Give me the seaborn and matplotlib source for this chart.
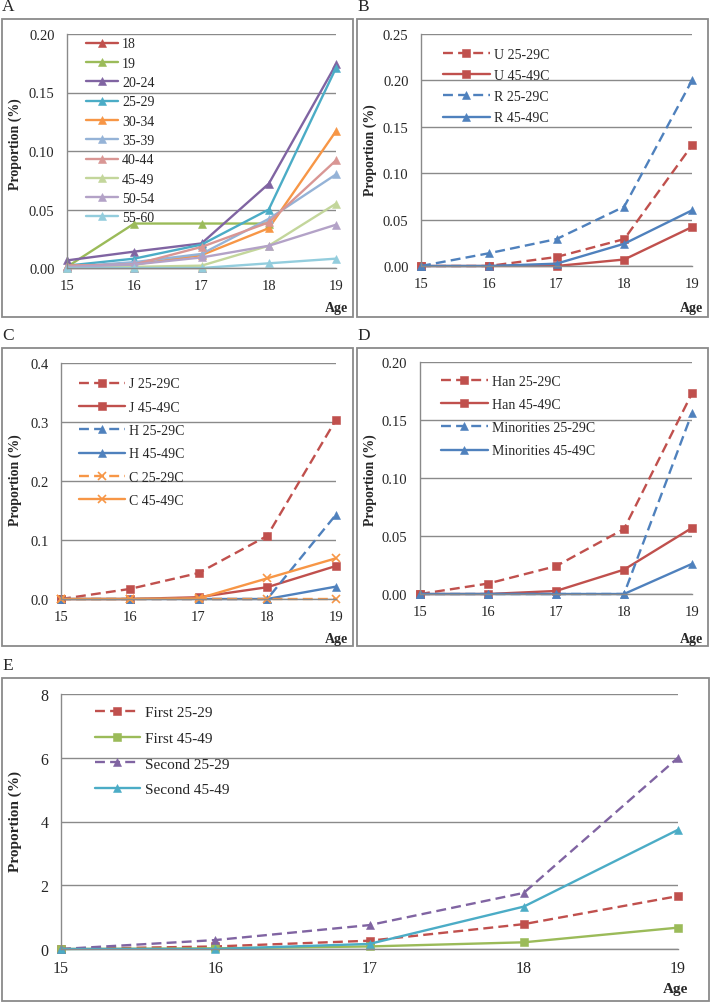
import numpy as np
import pandas as pd
import matplotlib
matplotlib.use("Agg")
import matplotlib.pyplot as plt
from matplotlib.patches import Rectangle
import seaborn as sns

# x axis: age at birth
ages = [15, 16, 17, 18, 19]

# A: birth cohorts
a_18 = [0.0, 0.0, 0.0, np.nan, np.nan]
a_19 = [0.001, 0.038, 0.038, 0.038, np.nan]
a_20_24 = [0.0065, 0.014, 0.021, 0.072, 0.174]
a_25_29 = [0.002, 0.008, 0.020, 0.050, 0.171]
a_30_34 = [0.002, 0.003, 0.011, 0.034, 0.117]
a_35_39 = [0.001, 0.005, 0.012, 0.042, 0.080]
a_40_44 = [0.002, 0.003, 0.018, 0.039, 0.092]
a_45_49 = [0.0, 0.001, 0.002, 0.019, 0.055]
a_50_54 = [0.001, 0.003, 0.009, 0.019, 0.037]
a_55_60 = [0.0, 0.0, 0.0, 0.004, 0.008]

# B: urban / rural
b_u_25 = [0.0, 0.0, 0.0097, 0.029, 0.130]
b_u_45 = [0.0, 0.0, 0.0, 0.007, 0.042]
b_r_25 = [0.0, 0.0137, 0.029, 0.064, 0.200]
b_r_45 = [0.0, 0.0, 0.0025, 0.024, 0.060]

# C: J / H / C groups
c_j_25 = [0.0, 0.017, 0.044, 0.107, 0.304]
c_j_45 = [0.0, 0.0, 0.003, 0.020, 0.056]
c_h_25 = [0.0, 0.0, 0.0, 0.0, 0.143]
c_h_45 = [0.0, 0.0, 0.0, 0.0, 0.021]
c_c_25 = [0.0, 0.0, 0.0, 0.0, 0.0]
c_c_45 = [0.0, 0.0, 0.001, 0.035, 0.069]

# D: Han / minorities
d_han_25 = [0.0, 0.009, 0.024, 0.056, 0.173]
d_han_45 = [0.0, 0.0, 0.0026, 0.021, 0.057]
d_min_25 = [0.0, 0.0, 0.0, 0.0, 0.156]
d_min_45 = [0.0, 0.0, 0.0, 0.0, 0.026]

# E: first / second marriage
e_first_25 = [0.0, 0.08, 0.26, 0.78, 1.66]
e_first_45 = [0.0, 0.02, 0.08, 0.21, 0.67]
e_second_25 = [0.0, 0.28, 0.75, 1.76, 6.0]
e_second_45 = [0.0, 0.0, 0.16, 1.33, 3.74]

RED = '#C0504D'
GREEN = '#9BBB59'
PURPLE = '#8064A2'
TEAL = '#4BACC6'
ORANGE = '#F79646'
BLUE = '#4F81BD'
GRAY = '#8a8a8a'
DASH = (0, (4.2, 2.2))

sns.set_style('white')
plt.rcParams['font.family'] = ['Liberation Serif', 'DejaVu Serif']

W, H = 710, 1003
fig = plt.figure(figsize=(W / 100, H / 100), dpi=100)


def fx(x):
    return x / W


def fy(y):
    return 1 - y / H


def box(x0, y0, x1, y1):
    fig.add_artist(Rectangle((fx(x0), fy(y1)), (x1 - x0) / W, (y1 - y0) / H,
                             transform=fig.transFigure, fill=False,
                             edgecolor=GRAY, lw=1.3))


def panel(rect, series, ylim, step, fmt, leg, fs=10.5, lfs=10):
    l, t, r, b = rect
    ax = fig.add_axes([fx(l), fy(b), (r - l) / W, (b - t) / H])
    names = []
    for name, vals, color, marker, ls in series:
        sns.lineplot(x=ages, y=vals, ax=ax, color=color, marker=marker,
                     linestyle=ls, linewidth=1.7, markersize=5.5,
                     markeredgewidth=1.2 if marker == 'x' else 0.4,
                     markeredgecolor=color, clip_on=False, legend=False)
        names.append(name)
    ax.set_xlim(15, 19)
    ax.set_ylim(*ylim)
    ax.set_xticks(ages)
    ax.set_yticks(np.arange(ylim[0], ylim[1] + step / 2, step))
    ax.set_yticklabels([fmt % v for v in ax.get_yticks()])
    ax.yaxis.grid(True, color=GRAY, lw=1)
    ax.xaxis.grid(False)
    for s in ['top', 'right']:
        ax.spines[s].set_visible(False)
    for s in ['left', 'bottom']:
        ax.spines[s].set_color(GRAY)
        ax.spines[s].set_linewidth(1)
    ax.tick_params(axis='x', length=3, color=GRAY, pad=5, labelsize=fs)
    ax.tick_params(axis='y', length=0, pad=9, labelsize=fs)
    ax.set_xlabel('')
    ax.set_ylabel('')
    # legend rows: (handle left x, first row centre y, row pitch, handle length) in pixels
    hx, hy, pitch, hlen = leg
    fs_px = lfs / 72 * 100
    lsp = (pitch - 0.935 * fs_px) / fs_px
    ax.legend(handles=ax.get_lines(), labels=names, loc='upper left',
              bbox_to_anchor=(fx(hx), fy(hy - 4.5)),
              bbox_transform=fig.transFigure, frameon=False, fontsize=lfs,
              borderpad=0, borderaxespad=0, labelspacing=lsp,
              handlelength=hlen / fs_px, handletextpad=0.3,
              numpoints=1)
    return ax


# panel A
box(2, 20, 353, 318)
panel((67, 35, 336, 269),
      [('18', a_18, RED, '^', '-'),
       ('19', a_19, GREEN, '^', '-'),
       ('20-24', a_20_24, PURPLE, '^', '-'),
       ('25-29', a_25_29, TEAL, '^', '-'),
       ('30-34', a_30_34, ORANGE, '^', '-'),
       ('35-39', a_35_39, '#95B3D7', '^', '-'),
       ('40-44', a_40_44, '#D99694', '^', '-'),
       ('45-49', a_45_49, '#C3D69B', '^', '-'),
       ('50-54', a_50_54, '#B3A2C7', '^', '-'),
       ('55-60', a_55_60, '#93CDDD', '^', '-')],
      (0, 0.20), 0.05, '%.2f', (86, 43, 19.3, 32))

# panel B
box(357, 20, 708, 318)
panel((421, 35, 692, 267),
      [('U 25-29C', b_u_25, RED, 's', DASH),
       ('U 45-49C', b_u_45, RED, 's', '-'),
       ('R 25-29C', b_r_25, BLUE, '^', DASH),
       ('R 45-49C', b_r_45, BLUE, '^', '-')],
      (0, 0.25), 0.05, '%.2f', (443, 53, 21.3, 47))

# panel C
box(2, 349, 353, 647)
panel((61, 364, 336, 600),
      [('J 25-29C', c_j_25, RED, 's', DASH),
       ('J 45-49C', c_j_45, RED, 's', '-'),
       ('H 25-29C', c_h_25, BLUE, '^', DASH),
       ('H 45-49C', c_h_45, BLUE, '^', '-'),
       ('C 25-29C', c_c_25, ORANGE, 'x', DASH),
       ('C 45-49C', c_c_45, ORANGE, 'x', '-')],
      (0, 0.4), 0.1, '%.1f', (79, 383, 23.3, 46))

# panel D
box(357, 349, 708, 647)
panel((420, 363, 692, 595),
      [('Han 25-29C', d_han_25, RED, 's', DASH),
       ('Han 45-49C', d_han_45, RED, 's', '-'),
       ('Minorities 25-29C', d_min_25, BLUE, '^', DASH),
       ('Minorities 45-49C', d_min_45, BLUE, '^', '-')],
      (0, 0.20), 0.05, '%.2f', (441, 380, 23.3, 47))

# panel E
box(2, 679, 709, 1002)
panel((61, 695, 678, 950),
      [('First 25-29', e_first_25, RED, 's', DASH),
       ('First 45-49', e_first_45, GREEN, 's', '-'),
       ('Second 25-29', e_second_25, PURPLE, '^', DASH),
       ('Second 45-49', e_second_45, TEAL, '^', '-')],
      (0, 8), 2, '%d', (95, 711, 26.3, 45), fs=11.5, lfs=11)

# panel letters, axis titles
for letter, x, y in [('A', 2, 7), ('B', 357, 7), ('C', 2, 336), ('D', 357, 336), ('E', 2, 666)]:
    fig.text(fx(x), fy(y), letter, ha='left', va='center', fontsize=12.5)

for x, y, fs in [(15, 144, 10), (370, 150, 10), (15, 480, 10), (370, 480, 10), (15, 822, 11)]:
    fig.text(fx(x), fy(y), 'Proportion (%)', rotation=90, ha='center', va='center',
             fontsize=fs, fontweight='bold')

for x, y, fs in [(348, 309, 10), (703, 309, 10), (348, 640, 10), (703, 640, 10), (688, 990, 11)]:
    fig.text(fx(x), fy(y), 'Age', ha='right', va='center', fontsize=fs, fontweight='bold')

fig.savefig('out.png', dpi=100)
